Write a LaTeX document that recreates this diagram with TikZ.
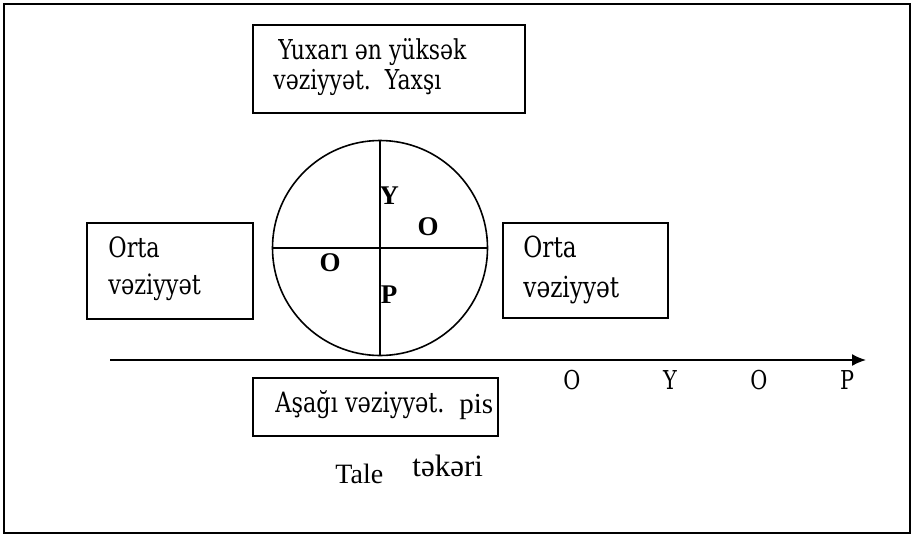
\documentclass[tikz,border=0pt]{standalone}
\usepackage{fontspec}
\setmainfont{Liberation Serif}
\newfontfamily\slabfont[FakeStretch=0.8]{DejaVu Serif}
\usetikzlibrary{arrows.meta,positioning}

\begin{document}
\begin{tikzpicture}[
    x=0.5pt, y=-0.5pt,
    box/.style={rectangle, draw, line width=0.8pt, inner sep=0pt},
    boxtext/.style={anchor=west, align=left, inner sep=0pt, font=\slabfont\fontsize{13.7}{15}\selectfont},
    lbl/.style={font=\bfseries\fontsize{13.5}{14}\selectfont, inner sep=0pt},
    axlbl/.style={font=\slabfont\fontsize{13}{14}\selectfont, inner sep=0pt}
]
    \useasboundingbox (0,0) rectangle (915,536);
    % Outer frame
    \draw[line width=0.9pt] (4,4) rectangle (910,533);

    % State boxes
    \node[box, minimum width=136pt, minimum height=44pt] (top) at (389,69) {};
    \node[box, minimum width=83pt, minimum height=48pt] (left) at (170,271) {};
    \node[box, minimum width=82.5pt, minimum height=47.5pt] (right) at (585.5,270.5) {};
    \node[box, minimum width=122.5pt, minimum height=29pt] (bottom) at (375.5,407) {};

    \node[boxtext] (toptxt) at (273,67) {\hspace*{2.5pt}Yuxarı ən yüksək\\vəziyyət.\ \ Yaxşı};
    \node[boxtext, font=\slabfont\fontsize{14}{18.5}\selectfont] (lefttxt) at (108,268.5) {Orta\\vəziyyət};
    \node[boxtext, font=\slabfont\fontsize{14.5}{20}\selectfont] (righttxt) at (523,269.5) {Orta\\vəziyyət};
    \node[boxtext, anchor=base west, font=\slabfont\fontsize{14}{15}\selectfont] (bottxt) at (275,412) {Aşağı vəziyyət.};
    \node[anchor=base west, inner sep=0pt, font=\fontsize{14.5}{15}\selectfont] (pis) at (459,413) {pis};

    % Wheel with its quarters
    \node[circle, draw, line width=0.8pt, minimum size=107.5pt, inner sep=0pt] (wheel) at (380,248) {};
    \draw[line width=0.8pt] (wheel.north) -- (wheel.south);
    \draw[line width=0.8pt] (wheel.west) -- (wheel.east);
    \node[lbl] (wY) at (389,196) {Y};
    \node[lbl] (wO1) at (428,227) {O};
    \node[lbl] (wO2) at (330,263) {O};
    \node[lbl] (wP) at (389,295) {P};

    % Axis
    \coordinate (axL) at (110,360);
    \coordinate (axR) at (866,360);
    \draw[line width=0.8pt, -{Latex[length=7pt,width=6pt]}] (axL) -- (axR);
    \foreach \t/\x in {O/572, Y/670, O/759, P/847} {
        \node[axlbl] at (\x,380) {\t};
    }

    % Caption
    \node[anchor=base west, inner sep=0pt, font=\fontsize{14}{15}\selectfont] (tale) at (335,483) {Tale};
    \node[anchor=base west, inner sep=0pt, font=\fontsize{15.5}{16}\selectfont] (taker) at (412,476) {təkəri};
\end{tikzpicture}
\end{document}
